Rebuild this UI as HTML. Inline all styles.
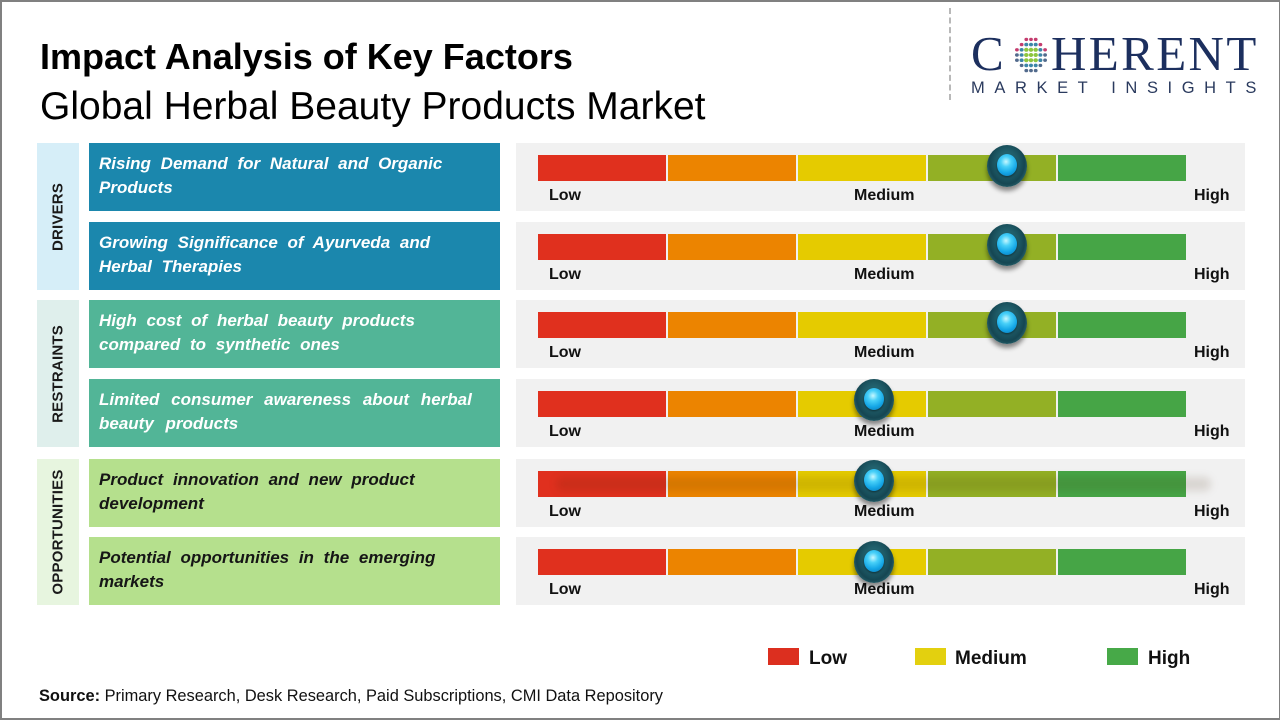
<!DOCTYPE html>
<html><head><meta charset="utf-8"><style>
*{margin:0;padding:0;box-sizing:border-box}
html,body{width:1280px;height:720px;overflow:hidden;background:#fff}
body{position:relative;font-family:"Liberation Sans",Arial,sans-serif}
.frame{position:absolute;left:0;top:0;width:1280px;height:720px;border:2px solid #808080;border-right-width:1px;pointer-events:none}
.abs{position:absolute;white-space:nowrap}
.t1{left:40px;top:39px;font-size:36px;line-height:36px;font-weight:bold;color:#000}
.t2{left:40px;top:87px;font-size:39px;line-height:39px;color:#000}
.cat{position:absolute;left:37px;width:42px}
.catl{position:absolute;left:50%;top:50%;transform:translate(-50%,-50%) rotate(-90deg);font-size:15px;font-weight:bold;color:#1a1a1a;letter-spacing:0.2px;white-space:nowrap}
.box{position:absolute;left:89px;width:411px;height:68px;padding:9px 0 0 10px;font-size:17px;line-height:24px;font-weight:bold;font-style:italic;color:#fff;white-space:nowrap;word-spacing:5px}
.d{background:#1b87ad}.r{background:#52b597}.o{background:#b5e08d;color:#161616}
.panel{position:absolute;left:516px;width:729px;height:68px;background:#f1f1f1}
.bar{position:absolute;left:22px;top:12px;height:26px;width:648px}
.seg{position:absolute;top:0;height:26px}
.lbl{position:absolute;top:44px;font-size:16px;line-height:18px;font-weight:bold;color:#111}
.knob{position:absolute;width:40px;height:42px;border-radius:50%;
background:radial-gradient(ellipse at 50% 42%,#2f7a86 0%,#1e5a66 40%,#154652 62%,#2a6670 78%,#0c2c34 100%);
box-shadow:0 4px 5px rgba(0,0,0,0.45)}
.knob::after{content:"";position:absolute;left:10px;top:9px;width:20px;height:22px;border-radius:50%;
background:radial-gradient(circle at 45% 35%,#c8f8ff 0%,#48d0f8 28%,#14a6e6 62%,#0a72ae 100%);box-shadow:0 1px 2px rgba(0,0,0,.5)}
.lg{position:absolute;top:648px;width:31px;height:17px}
.lgt{position:absolute;top:648px;font-size:19px;line-height:22px;font-weight:bold;color:#111}
</style></head><body>

<div class="abs t1">Impact Analysis of Key Factors</div>
<div class="abs t2">Global Herbal Beauty Products Market</div>

<!-- logo -->
<div style="position:absolute;left:949px;top:8px;height:92px;border-left:2px dashed #b8b8b8"></div>
<div class="abs" style="left:971px;top:28px;font-family:'Liberation Serif',serif;font-size:49px;line-height:52px;color:#1c2f5e;letter-spacing:1px">C</div>
<svg style="position:absolute;left:1012px;top:35px" width="38" height="40" viewBox="0 0 34 40" preserveAspectRatio="none">
<g fill="#c43c6e"><circle cx="12.8" cy="4.4" r="1.7"/><circle cx="17" cy="4.4" r="1.7"/><circle cx="21.2" cy="4.4" r="1.7"/><circle cx="8.6" cy="9.6" r="1.7"/><circle cx="25.4" cy="9.6" r="1.7"/><circle cx="4.4" cy="14.8" r="1.7"/><circle cx="29.6" cy="14.8" r="1.7"/></g>
<g fill="#3d86a8"><circle cx="12.8" cy="9.6" r="1.8"/><circle cx="17" cy="9.6" r="1.8"/><circle cx="21.2" cy="9.6" r="1.8"/><circle cx="8.6" cy="14.8" r="1.8"/><circle cx="25.4" cy="14.8" r="1.8"/><circle cx="8.6" cy="20" r="1.8"/><circle cx="25.4" cy="20" r="1.8"/><circle cx="8.6" cy="25.2" r="1.8"/><circle cx="25.4" cy="25.2" r="1.8"/><circle cx="12.8" cy="30.4" r="1.8"/><circle cx="17" cy="30.4" r="1.8"/><circle cx="21.2" cy="30.4" r="1.8"/></g>
<g fill="#8dc63f"><circle cx="12.8" cy="14.8" r="2"/><circle cx="17" cy="14.8" r="2"/><circle cx="21.2" cy="14.8" r="2"/><circle cx="12.8" cy="20" r="2"/><circle cx="17" cy="20" r="2"/><circle cx="21.2" cy="20" r="2"/><circle cx="12.8" cy="25.2" r="2"/><circle cx="17" cy="25.2" r="2"/><circle cx="21.2" cy="25.2" r="2"/></g>
<g fill="#526a8c"><circle cx="4.4" cy="20" r="1.7"/><circle cx="29.6" cy="20" r="1.7"/><circle cx="4.4" cy="25.2" r="1.7"/><circle cx="29.6" cy="25.2" r="1.7"/><circle cx="8.6" cy="30.4" r="1.7"/><circle cx="25.4" cy="30.4" r="1.7"/><circle cx="12.8" cy="35.6" r="1.7"/><circle cx="17" cy="35.6" r="1.7"/><circle cx="21.2" cy="35.6" r="1.7"/></g>
</svg>
<div class="abs" style="left:1051px;top:28px;font-family:'Liberation Serif',serif;font-size:49px;line-height:52px;color:#1c2f5e;letter-spacing:2.4px">HERENT</div>
<div class="abs" style="left:971px;top:78px;font-size:16.5px;line-height:20px;color:#2a3a5e;letter-spacing:9.6px">MARKET INSIGHTS</div>

<!-- categories -->
<div class="cat" style="top:143px;height:147px;background:#d6eef8"><div class="catl">DRIVERS</div></div>
<div class="cat" style="top:300px;height:147px;background:#dfefec"><div class="catl">RESTRAINTS</div></div>
<div class="cat" style="top:459px;height:146px;background:#e7f5df"><div class="catl">OPPORTUNITIES</div></div>

<!-- text boxes -->
<div class="box d" style="top:143px">Rising Demand for Natural and Organic<br>Products</div>
<div class="box d" style="top:222px">Growing Significance of Ayurveda and<br>Herbal Therapies</div>
<div class="box r" style="top:300px">High cost of herbal beauty products<br>compared to synthetic ones</div>
<div class="box r" style="top:379px;word-spacing:7px">Limited consumer awareness about herbal<br>beauty products</div>
<div class="box o" style="top:459px">Product innovation and new product<br>development</div>
<div class="box o" style="top:537px">Potential opportunities in the emerging<br>markets</div>

<!-- gauges -->
<div class="panel" style="top:143px">
 <div class="bar"><div class="seg" style="left:0;width:128px;background:#e0301e"></div><div class="seg" style="left:130px;width:128px;background:#ec8400"></div><div class="seg" style="left:260px;width:128px;background:#e5cb00"></div><div class="seg" style="left:390px;width:128px;background:#93b025"></div><div class="seg" style="left:520px;width:128px;background:#46a546"></div></div>
 <div class="lbl" style="left:33px">Low</div><div class="lbl" style="left:338px">Medium</div><div class="lbl" style="left:678px">High</div>
 <div class="knob" style="left:471px;top:2px"></div>
</div>
<div class="panel" style="top:222px">
 <div class="bar"><div class="seg" style="left:0;width:128px;background:#e0301e"></div><div class="seg" style="left:130px;width:128px;background:#ec8400"></div><div class="seg" style="left:260px;width:128px;background:#e5cb00"></div><div class="seg" style="left:390px;width:128px;background:#93b025"></div><div class="seg" style="left:520px;width:128px;background:#46a546"></div></div>
 <div class="lbl" style="left:33px">Low</div><div class="lbl" style="left:338px">Medium</div><div class="lbl" style="left:678px">High</div>
 <div class="knob" style="left:471px;top:2px"></div>
</div>
<div class="panel" style="top:300px">
 <div class="bar"><div class="seg" style="left:0;width:128px;background:#e0301e"></div><div class="seg" style="left:130px;width:128px;background:#ec8400"></div><div class="seg" style="left:260px;width:128px;background:#e5cb00"></div><div class="seg" style="left:390px;width:128px;background:#93b025"></div><div class="seg" style="left:520px;width:128px;background:#46a546"></div></div>
 <div class="lbl" style="left:33px">Low</div><div class="lbl" style="left:338px">Medium</div><div class="lbl" style="left:678px">High</div>
 <div class="knob" style="left:471px;top:2px"></div>
</div>
<div class="panel" style="top:379px">
 <div class="bar"><div class="seg" style="left:0;width:128px;background:#e0301e"></div><div class="seg" style="left:130px;width:128px;background:#ec8400"></div><div class="seg" style="left:260px;width:128px;background:#e5cb00"></div><div class="seg" style="left:390px;width:128px;background:#93b025"></div><div class="seg" style="left:520px;width:128px;background:#46a546"></div></div>
 <div class="lbl" style="left:33px">Low</div><div class="lbl" style="left:338px">Medium</div><div class="lbl" style="left:678px">High</div>
 <div class="knob" style="left:338px;top:0px"></div>
</div>
<div class="panel" style="top:459px">
 <div class="bar"><div class="seg" style="left:0;width:128px;background:#e0301e"></div><div class="seg" style="left:130px;width:128px;background:#ec8400"></div><div class="seg" style="left:260px;width:128px;background:#e5cb00"></div><div class="seg" style="left:390px;width:128px;background:#93b025"></div><div class="seg" style="left:520px;width:128px;background:#46a546"></div></div>
 <div style="position:absolute;left:40px;top:18px;width:655px;height:14px;background:rgba(60,30,0,0.13);filter:blur(4px);border-radius:7px"></div>
 <div class="lbl" style="left:33px">Low</div><div class="lbl" style="left:338px">Medium</div><div class="lbl" style="left:678px">High</div>
 <div class="knob" style="left:338px;top:1px"></div>
</div>
<div class="panel" style="top:537px">
 <div class="bar"><div class="seg" style="left:0;width:128px;background:#e0301e"></div><div class="seg" style="left:130px;width:128px;background:#ec8400"></div><div class="seg" style="left:260px;width:128px;background:#e5cb00"></div><div class="seg" style="left:390px;width:128px;background:#93b025"></div><div class="seg" style="left:520px;width:128px;background:#46a546"></div></div>
 <div class="lbl" style="left:33px">Low</div><div class="lbl" style="left:338px">Medium</div><div class="lbl" style="left:678px">High</div>
 <div class="knob" style="left:338px;top:4px"></div>
</div>

<!-- legend -->
<div class="lg" style="left:768px;background:#dc2f1f"></div><div class="lgt" style="left:809px">Low</div>
<div class="lg" style="left:915px;background:#e3d00f"></div><div class="lgt" style="left:955px">Medium</div>
<div class="lg" style="left:1107px;background:#47a948"></div><div class="lgt" style="left:1148px">High</div>

<div class="abs" style="left:39px;top:686px;font-size:16.4px;line-height:20px;color:#111"><b>Source:</b> Primary Research, Desk Research, Paid Subscriptions, CMI Data Repository</div>

<div class="frame"></div>
</body></html>
